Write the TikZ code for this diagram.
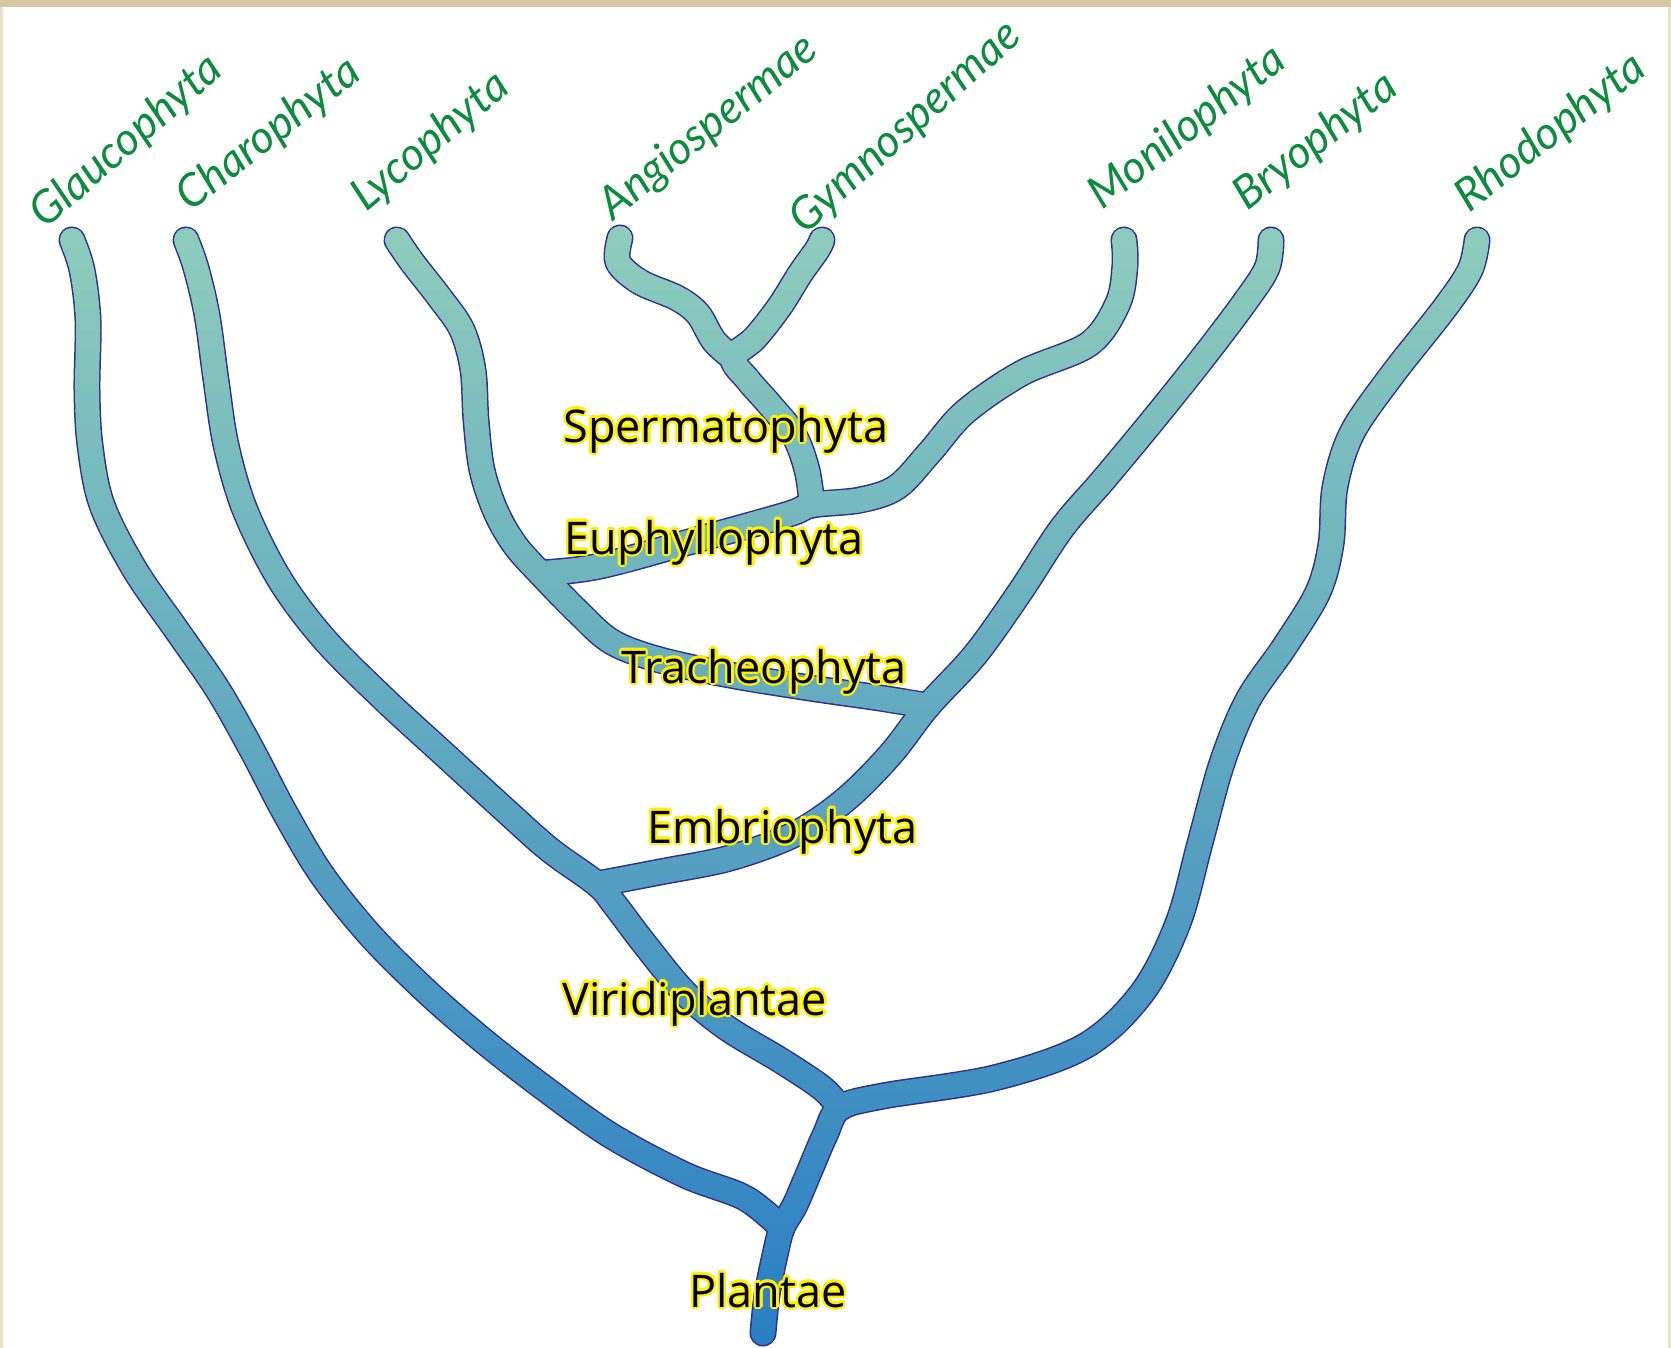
\documentclass[tikz,border=0pt]{standalone}
\usepackage{fontspec}
\usepackage{contour}
\newfontfamily\cladefont{Open Sans}
\newfontfamily\handfont{Lato}
\contourlength{1.2pt}
\definecolor{ctop}{RGB}{142,204,188}
\definecolor{cbot}{RGB}{42,126,196}
\definecolor{tubeline}{RGB}{46,49,140}
\definecolor{halo}{RGB}{255,240,0}
\definecolor{leafgreen}{RGB}{12,140,60}
\definecolor{frametop}{RGB}{212,199,161}
\definecolor{frameside}{RGB}{234,226,200}
\newcommand\treetubes[1]{%
  % root + Rhodophyta
  \draw[#1] plot[smooth,tension=0.55] coordinates {(rootTip) (767,1295) (775,1255) (jPl) (795,1205) (810,1170) (825,1135) (jVi) (883,1096) (994,1078) (1085,1046) (1142,993) (1178,923) (1200,843) (1222,763) (1248,700) (1285,646) (1318,592) (1331,544) (1335,487) (1352,433) (1392,375) (1444,309) (1470,270) (tR)};
  % Viridiplantae + Charophyta
  \draw[#1] plot[smooth,tension=0.55] coordinates {(jVi) (822,1088) (780,1060) (727,1028) (685,993) (643,942) (615,905) (jEm) (550,850) (505,810) (445,755) (385,700) (325,640) (280,580) (245,510) (226,445) (216,380) (207,315) (196,268) (tC)};
  % Glaucophyta
  \draw[#1] plot[smooth,tension=0.55] coordinates {(jPl) (745,1198) (685,1175) (610,1135) (540,1085) (480,1038) (425,990) (370,935) (322,875) (285,813) (252,750) (218,690) (178,632) (135,570) (102,505) (90,445) (87,390) (88,320) (82,270) (tG)};
  % Embryophyta + Bryophyta
  \draw[#1] plot[smooth,tension=0.55] coordinates {(jEm) (660,872) (730,858) (795,834) (845,800) (890,755) (jTr) (975,655) (1020,592) (1062,528) (1105,478) (1158,414) (1205,355) (1245,302) (1267,268) (tB)};
  % Tracheophyta + Lycophyta
  \draw[#1] plot[smooth,tension=0.55] coordinates {(jTr) (880,698) (810,688) (730,675) (660,660) (612,642) (578,612) (jEu) (515,545) (496,512) (482,470) (476,420) (473,370) (462,330) (440,298) (412,262) (tL)};
  % Euphyllophyta + Monilophyta
  \draw[#1] plot[smooth,tension=0.55] coordinates {(jEu) (600,566) (707,537) (789,514) (jSp) (860,500) (897,487) (930,452) (965,412) (1022,373) (1089,344) (1118,303) (1125,265) (tM)};
  % Spermatophyta + Gymnospermae
  \draw[#1] plot[smooth,tension=0.55] coordinates {(jSp) (807,470) (794,435) (770,405) (748,380) (jAG) (755,338) (780,306) (800,274) (817,250) (tGy)};
  % Angiospermae
  \draw[#1] plot[smooth,tension=0.55] coordinates {(jAG) (714,341) (698,314) (677,298) (640,282) (618,262) (tA)};
}
\begin{document}
\begin{tikzpicture}[x=0.5pt,y=-0.5pt,
  outer/.style={line width=13.5pt,line cap=round,line join=round},
  inner/.style={line width=12pt,line cap=round,line join=round},
  clade/.style={font=\cladefont\fontsize{22.5}{27}\selectfont,anchor=base west,inner sep=0pt},
  leaf/.style={font=\handfont\itshape\fontsize{22.5}{26}\selectfont,text=leafgreen,inner sep=0pt}]
\useasboundingbox (0,0) rectangle (1671,1348);
\fill[frameside] (0,0) rectangle (1671,1348);
\fill[frametop] (0,0) rectangle (1671,7);
\fill[white] (3,7) rectangle (1668,1348);
% named points
\coordinate (rootTip) at (763,1333);
\coordinate (jPl) at (782,1228);
\coordinate (jVi) at (840,1108);
\coordinate (jEm) at (597,884);
\coordinate (jTr) at (928,706);
\coordinate (jEu) at (540,573);
\coordinate (jSp) at (812,505);
\coordinate (jAG) at (733,358);
\coordinate (tG) at (72,240);
\coordinate (tC) at (186,240);
\coordinate (tL) at (397,240);
\coordinate (tA) at (620,238);
\coordinate (tGy) at (822,240);
\coordinate (tM) at (1124,240);
\coordinate (tB) at (1271,240);
\coordinate (tR) at (1477,240);
% outline
\treetubes{outer,draw=tubeline}
% gradient fill in slabs
\foreach \k in {0,...,57}{
  \pgfmathsetmacro\ya{210+20*\k}
  \pgfmathsetmacro\yb{\ya+22}
  \pgfmathtruncatemacro\pct{min(100,max(0,(\ya+10-225)/(1335-225)*100))}
  \colorlet{slabc}{cbot!\pct!ctop}
  \begin{scope}
    \clip (0,\ya) rectangle (1671,\yb);
    \treetubes{inner,draw=slabc}
  \end{scope}
}
% clade labels
\node[clade] (lSp) at (563,442) {\contour{halo}{Spermatophyta}};
\node[clade] (lEu) at (564,554) {\contour{halo}{Euphyllophyta}};
\node[clade] (lTr) at (621,683) {\contour{halo}{Tracheophyta}};
\node[clade] (lEm) at (647,843) {\contour{halo}{Embriophyta}};
\node[clade] (lVi) at (562,1015) {\contour{halo}{Viridiplantae}};
\node[clade] (lPl) at (689,1307) {\contour{halo}{Plantae}};
% leaf labels
\node[leaf,rotate=41] (nG) at (127,142) {Glaucophyta};
\node[leaf,rotate=38] (nC) at (269,135) {Charophyta};
\node[leaf,rotate=40] (nL) at (431,142) {Lycophyta};
\node[leaf,rotate=39] (nA) at (709,128) {Angiospermae};
\node[leaf,rotate=42] (nGy) at (906,128) {Gymnospermae};
\node[leaf,rotate=38] (nM) at (1188,128) {Monilophyta};
\node[leaf,rotate=38] (nB) at (1316,142) {Bryophyta};
\node[leaf,rotate=38] (nR) at (1551,133) {Rhodophyta};
\end{tikzpicture}
\end{document}
